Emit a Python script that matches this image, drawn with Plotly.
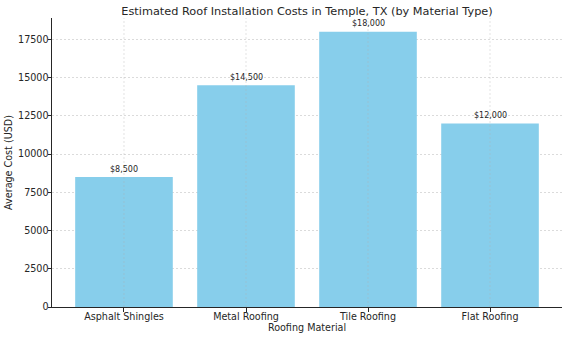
import plotly.graph_objects as go

materials = ["Asphalt Shingles", "Metal Roofing", "Tile Roofing", "Flat Roofing"]
costs = [8500, 14500, 18000, 12000]
yticks = [0, 2500, 5000, 7500, 10000, 12500, 15000, 17500]
title = "Estimated Roof Installation Costs in Temple, TX (by Material Type)"

font = "DejaVu Sans"
grid_col = "rgba(175,175,175,0.45)"

fig = go.Figure()
fig.add_trace(go.Bar(
    x=list(range(len(materials))), y=costs, width=0.8,
    marker=dict(color="#87CEEB", line=dict(width=0)),
    hoverinfo="skip",
))

ymax = max(costs) * 1.05
shapes = []
for i in range(len(materials)):
    shapes.append(dict(type="line", xref="x", yref="paper", x0=i, x1=i, y0=0, y1=1,
                       line=dict(color=grid_col, width=0.8, dash="2px,2px"), layer="above"))

annotations = []
for i, v in enumerate(costs):
    annotations.append(dict(x=i, y=v, text=f"${v:,}", showarrow=False, yanchor="bottom",
                            yshift=1.5, font=dict(family=font, size=8, color="#262626")))

fig.update_layout(
    width=568, height=338,
    margin=dict(l=52, r=6, t=18, b=31),
    paper_bgcolor="white", plot_bgcolor="white",
    showlegend=False,
    title=dict(text=title, x=0.5, xanchor="center", y=1 - 11/338, yanchor="middle",
               xref="paper", font=dict(family=font, size=11.3, color="#262626")),
    font=dict(family=font, size=9.6, color="#262626"),
    shapes=shapes,
    annotations=annotations,
    bargap=0.2,
)
fig.update_xaxes(
    range=[-0.59, len(materials) - 1 + 0.59],
    tickvals=list(range(len(materials))), ticktext=materials,
    ticks="outside", ticklen=3.5, tickwidth=0.8, tickcolor="#262626",
    ticklabelstandoff=-3,
    showline=True, linecolor="#262626", linewidth=1,
    showgrid=False, zeroline=False, automargin=False,
    title=dict(text="Roofing Material", standoff=0, font=dict(size=9.6)),
    tickfont=dict(size=9.6),
)
fig.update_yaxes(
    range=[0, ymax],
    tickvals=yticks, ticktext=[str(t) for t in yticks],
    ticks="outside", ticklen=3.5, tickwidth=0.8, tickcolor="#262626",
    ticklabelstandoff=-3,
    showline=True, linecolor="#262626", linewidth=1,
    showgrid=True, gridcolor=grid_col, gridwidth=0.8, griddash="2px,2px",
    zeroline=False, automargin=False,
    title=dict(text="Average Cost (USD)", standoff=3, font=dict(size=9.6)),
    tickfont=dict(size=9.6),
)

fig.write_html("out.html")
